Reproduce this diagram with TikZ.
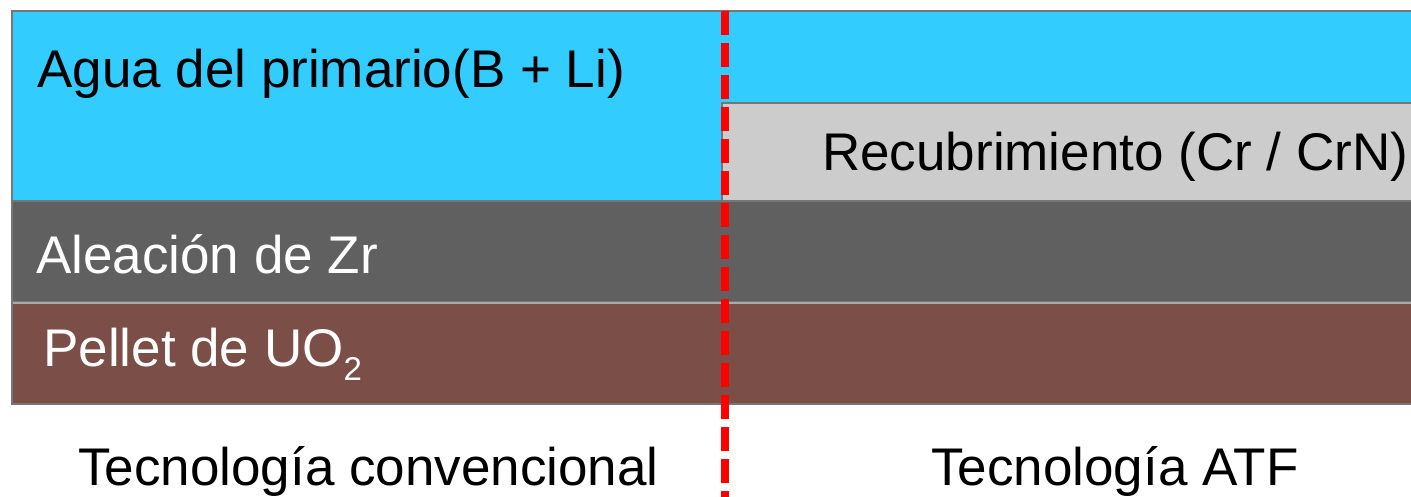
\documentclass[tikz,border=0pt]{standalone}
\usepackage{fontspec}
\setmainfont{Liberation Sans}
\definecolor{water}{RGB}{51,204,255}
\definecolor{coat}{RGB}{204,204,204}
\definecolor{alloy}{RGB}{96,96,96}
\definecolor{pellet}{RGB}{123,79,71}
\definecolor{edge}{RGB}{118,118,118}
\definecolor{edgelight}{RGB}{170,170,170}
\tikzset{
  layer/.style={line width=2pt},
  lbl/.style={anchor=base west, inner sep=0pt, font=\fontsize{53}{60}\selectfont},
  divider/.style={draw=red, line width=8pt, dash pattern=on 24pt off 8pt}
}
\begin{document}
\begin{tikzpicture}[x=1pt,y=-1pt]
\useasboundingbox (0,0) rectangle (1411,497);
\clip (0,0) rectangle (1411,497);
\fill[white] (0,0) rectangle (1411,497);
% layers
\filldraw[layer, fill=water, draw=edge] (12,11) rectangle (1430,201);
\filldraw[layer, fill=coat, draw=edge] (722,103) rectangle (1430,201);
\filldraw[layer, fill=alloy, draw=edge] (12,201) rectangle (1430,302);
\filldraw[layer, fill=pellet, draw=edge] (12,303) rectangle (1430,404);
\draw[line width=2pt, edgelight] (13,302.5) -- (1430,302.5);
% labels
\node[lbl] (agua) at (37,88) {Agua del primario(B + Li)};
\node[lbl] (recub) at (822,171) {Recubrimiento (Cr / CrN)};
\node[lbl, text=white] (zr) at (36,273) {Aleación de Zr};
\node[lbl, text=white] (uo) at (43,366) {Pellet de UO\raisebox{-14pt}{\fontsize{33}{33}\selectfont 2}};
\node[lbl] (conv) at (78,485) {Tecnología convencional};
\node[lbl] (atf) at (931,485) {Tecnología ATF};
% divider
\coordinate (dtop) at (725,11);
\coordinate (dbot) at (725,520);
\draw[divider] (dtop) -- (dbot);
\end{tikzpicture}
\end{document}
